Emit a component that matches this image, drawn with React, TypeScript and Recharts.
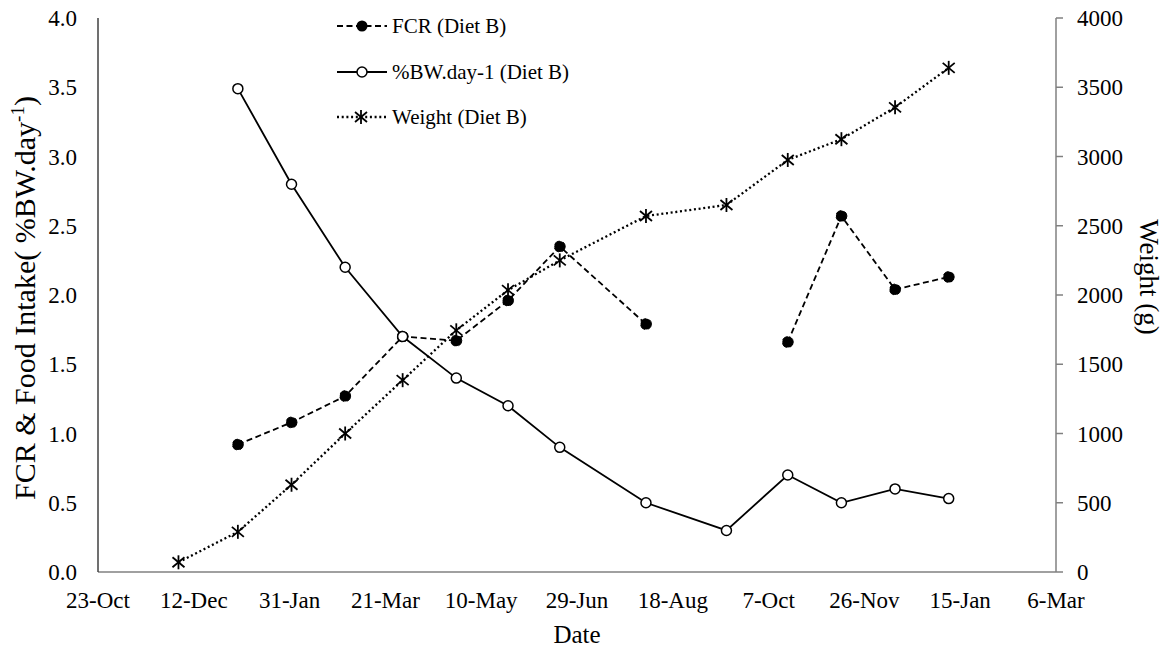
import React from 'react';
import { LineChart, Line, XAxis, YAxis } from 'recharts';

const dayOffsets = [42, 73, 101, 129, 159, 187, 214, 241, 286, 328, 360, 388, 416, 444];
const fcrValues: (number | null)[] = [null, 0.92, 1.08, 1.27, 1.7, 1.67, 1.96, 2.35, 1.79, null, 1.66, 2.57, 2.04, 2.13];
const bwValues: (number | null)[] = [null, 3.49, 2.8, 2.2, 1.7, 1.4, 1.2, 0.9, 0.5, 0.3, 0.7, 0.5, 0.6, 0.53];
const weightValues = [70, 290, 630, 1000, 1385, 1745, 2035, 2250, 2570, 2650, 2975, 3125, 3355, 3640];

const xTickValues = [0, 50, 100, 150, 200, 250, 300, 350, 400, 450, 500];
const xTickLabels = ['23-Oct', '12-Dec', '31-Jan', '21-Mar', '10-May', '29-Jun', '18-Aug', '7-Oct', '26-Nov', '15-Jan', '6-Mar'];
const leftTicks = [0, 0.5, 1, 1.5, 2, 2.5, 3, 3.5, 4];
const rightTicks = [0, 500, 1000, 1500, 2000, 2500, 3000, 3500, 4000];
const seriesNames = ['FCR (Diet B)', '%BW.day-1 (Diet B)', 'Weight (Diet B)'];

const data = dayOffsets.map((d, i) => ({
  day: d,
  fcr: fcrValues[i],
  bw: bwValues[i],
  weight: weightValues[i],
}));

const FONT = "'Liberation Serif', 'Times New Roman', serif";
const TICK_SIZE = 23;

const Asterisk = ({ cx, cy }: { cx: number; cy: number }) => (
  <g stroke="#000" strokeWidth={1.8}>
    <line x1={cx} y1={cy - 7} x2={cx} y2={cy + 7} />
    <line x1={cx - 6} y1={cy - 5} x2={cx + 6} y2={cy + 5} />
    <line x1={cx - 6} y1={cy + 5} x2={cx + 6} y2={cy - 5} />
  </g>
);

const renderAsterisk = (props: any) => {
  const { cx, cy, index } = props;
  if (cx == null || cy == null) return <g key={`a-${index}`} />;
  return <g key={`a-${index}`}><Asterisk cx={cx} cy={cy} /></g>;
};

const XTick = (props: any) => {
  const { x, y, payload } = props;
  const label = xTickLabels[xTickValues.indexOf(payload.value)] ?? '';
  return (
    <text x={x} y={y} dy="0.71em" textAnchor="middle" fontFamily={FONT} fontSize={TICK_SIZE} fill="#000">
      {label}
    </text>
  );
};

const LeftTick = (props: any) => {
  const { x, y, payload } = props;
  return (
    <text x={x} y={y} dy="0.355em" textAnchor="end" fontFamily={FONT} fontSize={TICK_SIZE} fill="#000">
      {Number(payload.value).toFixed(1)}
    </text>
  );
};

const RightTick = (props: any) => {
  const { x, y, payload } = props;
  return (
    <text x={x} y={y} dy="0.355em" textAnchor="start" fontFamily={FONT} fontSize={TICK_SIZE} fill="#000">
      {payload.value}
    </text>
  );
};

const LeftTitle = () => (
  <text
    transform="translate(35, 298) rotate(-90)"
    textAnchor="middle"
    fontFamily={FONT}
    fontSize={30}
    fill="#000"
  >
    FCR &amp; Food Intake( %BW.day
    <tspan dy={-11} fontSize={19}>-1</tspan>
    <tspan dy={11}>)</tspan>
  </text>
);

const RightTitle = () => (
  <text
    transform="translate(1140, 277) rotate(90)"
    textAnchor="middle"
    fontFamily={FONT}
    fontSize={27}
    fill="#000"
  >
    Weight (g)
  </text>
);

const DateTitle = () => (
  <text x={577} y={643} textAnchor="middle" fontFamily={FONT} fontSize={25} fill="#000">
    Date
  </text>
);

const Legend = () => {
  const rows = [26, 72, 117];
  return (
    <svg
      width={1175}
      height={160}
      style={{ position: 'absolute', left: 0, top: 0, pointerEvents: 'none' }}
    >
      <line x1={337} y1={rows[0]} x2={387} y2={rows[0]} stroke="#000" strokeWidth={1.8} strokeDasharray="6 3.5" />
      <circle cx={362} cy={rows[0]} r={5.5} fill="#000" />
      <line x1={337} y1={rows[1]} x2={387} y2={rows[1]} stroke="#000" strokeWidth={1.8} />
      <circle cx={362} cy={rows[1]} r={5} fill="#fff" stroke="#000" strokeWidth={1.5} />
      <line x1={337} y1={rows[2]} x2={387} y2={rows[2]} stroke="#000" strokeWidth={2.3} strokeDasharray="2 2.7" />
      <Asterisk cx={361} cy={rows[2]} />
      {seriesNames.map((name, i) => (
        <text key={name} x={392} y={rows[i]} dy="0.35em" fontFamily={FONT} fontSize={21} fill="#000">
          {name}
        </text>
      ))}
    </svg>
  );
};

export default function App() {
  return (
    <div style={{ margin: -8, position: 'relative', width: 1175, height: 653, background: '#fff', fontFamily: FONT }}>
      <LineChart
        width={1175}
        height={653}
        data={data}
        margin={{ top: 18, right: 0, bottom: 0, left: 0 }}
        style={{ fontFamily: FONT }}
      >
        <XAxis
          dataKey="day"
          type="number"
          domain={[0, 500]}
          ticks={xTickValues}
          interval={0}
          height={81}
          tickLine={false}
          tickSize={7}
          tickMargin={13}
          axisLine={{ stroke: '#808080', strokeWidth: 1.5 }}
          tick={<XTick />}
          label={<DateTitle />}
        />
        <YAxis
          yAxisId="left"
          orientation="left"
          domain={[0, 4]}
          ticks={leftTicks}
          interval={0}
          width={98}
          tickLine={false}
          tickSize={7}
          tickMargin={14}
          axisLine={{ stroke: '#404040', strokeWidth: 1.5 }}
          tick={<LeftTick />}
          label={<LeftTitle />}
        />
        <YAxis
          yAxisId="right"
          orientation="right"
          domain={[0, 4000]}
          ticks={rightTicks}
          interval={0}
          width={119}
          tickLine={{ stroke: '#808080', strokeWidth: 1.5 }}
          tickSize={7}
          tickMargin={14}
          axisLine={{ stroke: '#808080', strokeWidth: 1.5 }}
          tick={<RightTick />}
          label={<RightTitle />}
        />
        <Line
          yAxisId="right"
          dataKey="weight"
          stroke="#000"
          strokeWidth={2.3}
          strokeDasharray="2 2.7"
          dot={renderAsterisk}
          activeDot={false}
          isAnimationActive={false}
        />
        <Line
          yAxisId="left"
          dataKey="fcr"
          stroke="#000"
          strokeWidth={1.8}
          strokeDasharray="6 3.5"
          connectNulls={false}
          dot={{ r: 5.5, fill: '#000', stroke: '#000', strokeWidth: 1 }}
          activeDot={false}
          isAnimationActive={false}
        />
        <Line
          yAxisId="left"
          dataKey="bw"
          stroke="#000"
          strokeWidth={1.8}
          connectNulls={false}
          dot={{ r: 5, fill: '#fff', stroke: '#000', strokeWidth: 1.5 }}
          activeDot={false}
          isAnimationActive={false}
        />
      </LineChart>
      <Legend />
    </div>
  );
}
